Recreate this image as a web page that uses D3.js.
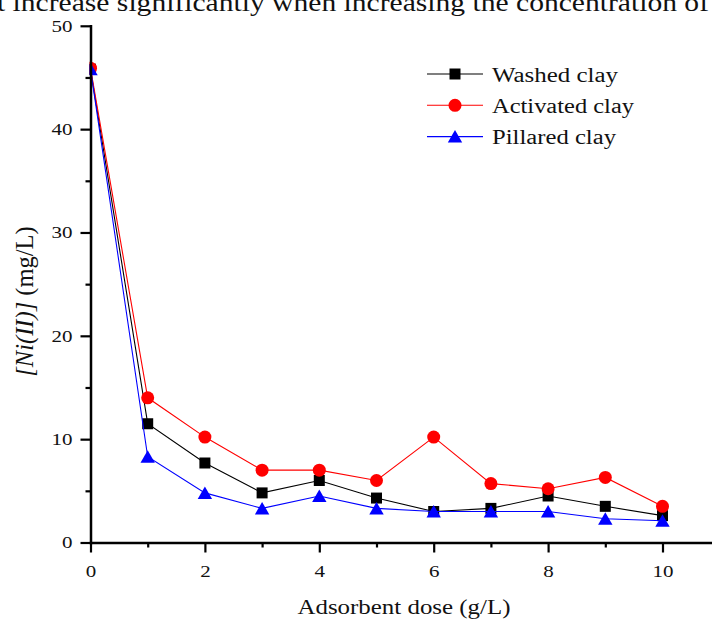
<!DOCTYPE html>
<html><head><meta charset="utf-8">
<script src="https://cdn.jsdelivr.net/npm/d3@7"></script>
<style>body{margin:0;background:#fff}svg{display:block}</style>
</head><body>
<svg id="chart" width="712" height="619"></svg>
<script>
// ---- data ----
const doses = [0, 1, 2, 3, 4, 5, 6, 7, 8, 9, 10];
const washed = [45.8, 11.5, 7.7, 4.8, 6.0, 4.3, 3.0, 3.3, 4.5, 3.5, 2.6];
const activated = [45.9, 14.0, 10.2, 7.0, 7.0, 6.0, 10.2, 5.7, 5.2, 6.3, 3.5];
const pillared = [45.8, 8.3, 4.8, 3.3, 4.5, 3.3, 3.0, 3.0, 3.0, 2.3, 2.1];
const seriesNames = ["Washed clay", "Activated clay", "Pillared clay"];
const xTicks = [0, 2, 4, 6, 8, 10];
const xMinorTicks = [1, 3, 5, 7, 9, 11];
const yTicks = [0, 10, 20, 30, 40, 50];
const yMinorTicks = [5, 15, 25, 35, 45];
const headerText = "t increase significantly when increasing the concentration of";
const xTitle = "Adsorbent dose (g/L)";
const yTitleItalic = "[Ni(II)]";
const yTitleRest = " (mg/L)";

// ---- styles ----
const FONT = "'Liberation Serif','Times New Roman',serif";
const styles = [
  {color: "#000000", shape: "square"},
  {color: "#ff0000", shape: "circle"},
  {color: "#0000ff", shape: "triangle"}
];
const seriesValues = [washed, activated, pillared];

const svg = d3.select("#chart");
const x = d3.scaleLinear().domain([0, 11]).range([90.5, 90.5 + 11 * 57.2]);
const y = d3.scaleLinear().domain([0, 50]).range([542.5, 25.8]);

function markerPath(shape) {
  if (shape === "square") return "M-5.5,-5.5H5.5V5.5H-5.5Z";
  if (shape === "circle") return d3.symbol(d3.symbolCircle, Math.PI * 6.5 * 6.5)();
  return "M0,-6.5L7.2,6L-7.2,6Z";
}

// header text (cropped line of surrounding document)
svg.append("text").attr("x", -3).attr("y", 10.5)
  .attr("font-family", FONT).attr("font-size", 26).attr("fill", "#111")
  .attr("textLength", 712).attr("lengthAdjust", "spacingAndGlyphs")
  .text(headerText);

// clip
svg.append("defs").append("clipPath").attr("id", "plotclip")
  .append("rect").attr("x", 89.5).attr("y", 0).attr("width", 640).attr("height", 560);

const plot = svg.append("g").attr("clip-path", "url(#plotclip)");
seriesValues.forEach((vals, i) => {
  const pts = doses.map((d, j) => [d, vals[j]]);
  const line = d3.line().x(d => x(d[0])).y(d => y(d[1]));
  plot.append("path").datum(pts).attr("d", line)
    .attr("fill", "none").attr("stroke", styles[i].color).attr("stroke-width", 1.1);
  plot.selectAll(null).data(pts).enter().append("path")
    .attr("d", markerPath(styles[i].shape))
    .attr("transform", d => `translate(${x(d[0])},${y(d[1])})`)
    .attr("fill", styles[i].color);
});

// axes
function styleAxis(g) {
  g.selectAll(".domain").attr("stroke", "#000").attr("stroke-width", 2.5).attr("stroke-linecap", "square");
  g.selectAll(".tick line").attr("stroke", "#000").attr("stroke-width", 2.2);
  g.selectAll(".tick text").attr("font-family", FONT).attr("font-size", 16.5).attr("fill", "#111")
    .attr("textLength", function () { return this.textContent.length * 10.5; })
    .attr("lengthAdjust", "spacingAndGlyphs");
}
const xAxisG = svg.append("g").attr("transform", `translate(0,${y(0)})`)
  .call(d3.axisBottom(x).tickValues(xTicks).tickSize(10).tickSizeOuter(0).tickFormat(d3.format("d")));
styleAxis(xAxisG);
xAxisG.selectAll(".tick text").attr("y", 34).attr("dy", 0);
const xMinorG = svg.append("g").attr("transform", `translate(0,${y(0)})`)
  .call(d3.axisBottom(x).tickValues(xMinorTicks).tickSize(5).tickFormat(""));
xMinorG.select(".domain").remove();
styleAxis(xMinorG);

const yAxisG = svg.append("g").attr("transform", `translate(${x(0)},0)`)
  .call(d3.axisLeft(y).tickValues(yTicks).tickSize(10).tickPadding(8).tickSizeOuter(0).tickFormat(d3.format("d")));
styleAxis(yAxisG);
const yMinorG = svg.append("g").attr("transform", `translate(${x(0)},0)`)
  .call(d3.axisLeft(y).tickValues(yMinorTicks).tickSize(5).tickFormat(""));
yMinorG.select(".domain").remove();
styleAxis(yMinorG);

// axis titles
svg.append("text").attr("x", 404).attr("y", 614).attr("text-anchor", "middle")
  .attr("font-family", FONT).attr("font-size", 21).attr("fill", "#111")
  .attr("textLength", 213).attr("lengthAdjust", "spacingAndGlyphs")
  .text(xTitle);
const yt = svg.append("text").attr("transform", "translate(33,301.5) rotate(-90)")
  .attr("text-anchor", "middle").attr("font-family", FONT).attr("font-size", 24.5).attr("fill", "#111");
yt.append("tspan").attr("font-style", "italic").text(yTitleItalic);
yt.append("tspan").text(yTitleRest);

// legend
const legendW = [126, 142, 124];
seriesNames.forEach((name, i) => {
  const ly = 74 + i * 31.3;
  const g = svg.append("g");
  g.append("line").attr("x1", 427).attr("x2", 483).attr("y1", ly).attr("y2", ly)
    .attr("stroke", styles[i].color).attr("stroke-width", 1.1);
  g.append("path").attr("d", markerPath(styles[i].shape))
    .attr("transform", `translate(455,${ly})`).attr("fill", styles[i].color);
  g.append("text").attr("x", 492).attr("y", ly + 7.5)
    .attr("font-family", FONT).attr("font-size", 20.5).attr("fill", "#111")
    .attr("textLength", legendW[i]).attr("lengthAdjust", "spacingAndGlyphs")
    .text(name);
});
</script>
</body></html>
